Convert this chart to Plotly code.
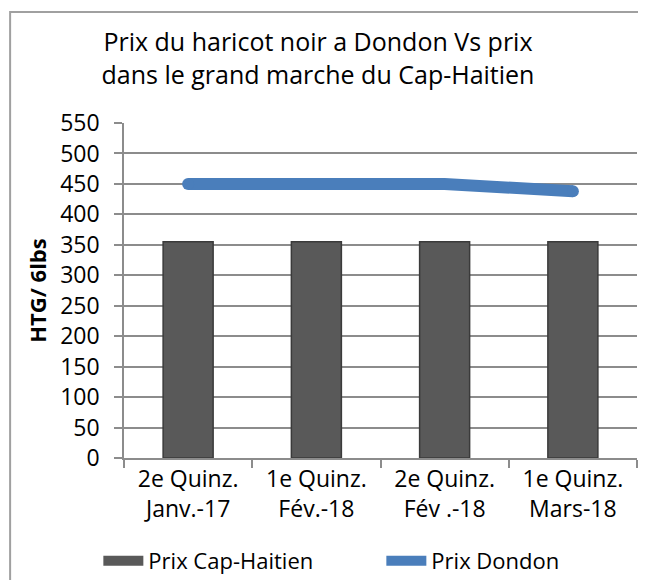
import plotly.graph_objects as go

categories = ["2e Quinz.<br>Janv.-17", "1e Quinz.<br>Fév.-18", "2e Quinz.<br>Fév .-18", "1e Quinz.<br>Mars-18"]
prix_cap_haitien = [355, 355, 355, 355]
prix_dondon = [450, 450, 450, 438]

FONT = "Open Sans"
GRID = '#8c8c8c'
BAR = '#595959'
LINE = '#4a7ebb'

fig = go.Figure()

fig.add_trace(go.Bar(
    x=categories, y=prix_cap_haitien, name="Prix Cap-Haitien",
    width=0.39, showlegend=False,
    marker=dict(color=BAR, line=dict(color='#3a3a3a', width=1.5)),
))
# wide legend swatch for the bars
fig.add_trace(go.Scatter(
    x=[None], y=[None], name="Prix Cap-Haitien", mode='lines',
    line=dict(color=BAR, width=12),
))

fig.add_trace(go.Scatter(
    x=categories, y=prix_dondon, name="Prix Dondon",
    mode='lines',
    line=dict(color=LINE, width=12),
))
# round ends of the line
fig.add_trace(go.Scatter(
    x=[categories[0], categories[-1]], y=[prix_dondon[0], prix_dondon[-1]],
    mode='markers', marker=dict(color=LINE, size=12),
    showlegend=False, hoverinfo='skip',
))

# outer chart border
fig.add_shape(type='rect', xref='paper', yref='paper',
              x0=-0.222, x1=1.05, y0=-0.6, y1=1.331,
              line=dict(color='#a0a0a0', width=2))

# page body has an 8px margin, so the figure is 16px smaller than the window
fig.update_layout(
    width=630, height=572,
    margin=dict(l=116, r=1, t=115, b=122, autoexpand=False),
    paper_bgcolor='white', plot_bgcolor='white',
    font=dict(family=FONT, size=20, color='black'),
    title=dict(text="Prix du haricot noir a Dondon Vs prix<br>dans le grand marche du Cap-Haitien",
               x=0.492, xanchor='center', y=0.924, yanchor='middle',
               font=dict(size=25)),
    showlegend=True,
    legend=dict(orientation='h', x=-0.05, xanchor='left', y=-0.307, yanchor='middle',
                font=dict(size=22), itemwidth=40, entrywidth=228, traceorder='normal'),
    xaxis=dict(showgrid=False, showline=True, linecolor=GRID, linewidth=1.5,
               ticks='outside', tickson='boundaries', ticklen=8, tickcolor=GRID,
               tickwidth=1.5, tickfont=dict(size=23), automargin=False),
    yaxis=dict(range=[0, 550], dtick=50, showgrid=True, gridcolor=GRID, gridwidth=1.5,
               showline=True, linecolor=GRID, linewidth=1.5, zeroline=False,
               ticks='outside', ticklen=8, tickcolor=GRID, tickwidth=1.5,
               ticklabelstandoff=10, tickfont=dict(size=23), automargin=False,
               title=dict(text="<b>HTG/ 6lbs</b>", font=dict(size=22), standoff=7)),
)

fig.write_html("out.html")
